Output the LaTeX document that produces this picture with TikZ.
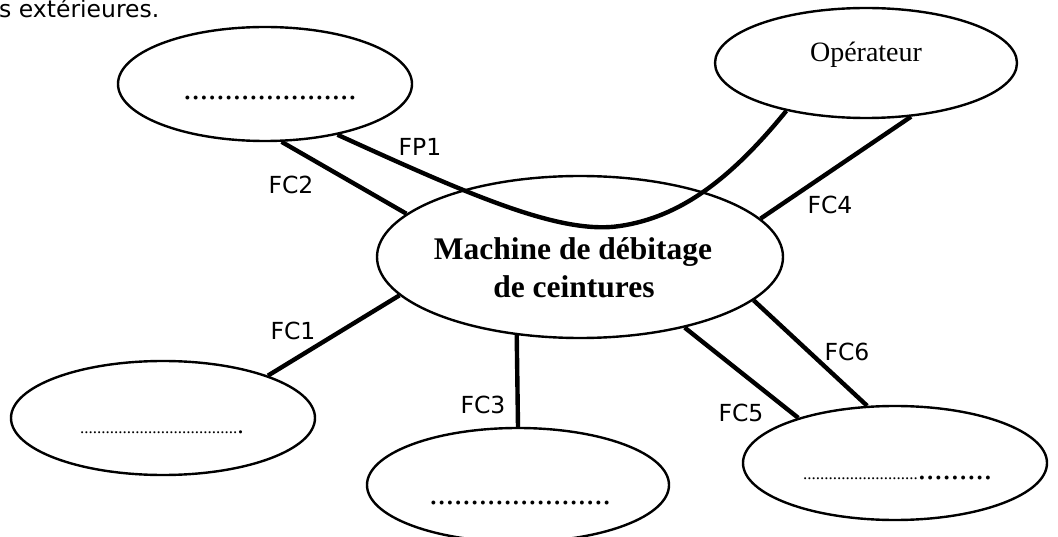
\documentclass[tikz,border=0pt]{standalone}
\usepackage{fontspec}
\setmainfont{Liberation Serif}
\newfontfamily\lblfont{DejaVu Sans}
\usetikzlibrary{shapes.geometric}
\begin{document}
\begin{tikzpicture}[x=1pt,y=-1pt,
  oval/.style={draw, ellipse, line width=2.4pt, inner sep=0pt},
  link/.style={line width=4.4pt},
  lbl/.style={font=\lblfont\fontsize{23.5}{28}\selectfont, inner sep=0pt},
  dots/.style={inner sep=0pt, font=\fontsize{33}{36}\selectfont},
]
\useasboundingbox (0,0) rectangle (1058,537);
% heading fragment
\node[lbl, anchor=base west] (head) at (-1,18) {s extérieures.};
% ellipses
\node[oval, minimum width=294pt, minimum height=114pt] (E1) at (265,84) {};
\node[oval, minimum width=304pt, minimum height=114pt] (E2) at (163,418) {};
\node[oval, minimum width=302pt, minimum height=114pt] (E3) at (518,485) {};
\node[oval, minimum width=304pt, minimum height=114pt] (E4) at (895,463) {};
\node[oval, minimum width=302pt, minimum height=110pt] (E5) at (866,63) {};
\node[oval, minimum width=406pt, minimum height=162pt] (M) at (580,257) {};
% texts in ellipses
\node[inner sep=0pt, anchor=base, font=\fontsize{31.5}{38}\selectfont\bfseries] (mt1) at (573,260) {Machine de débitage};
\node[inner sep=0pt, anchor=base, font=\fontsize{31.5}{38}\selectfont\bfseries] (mt2) at (574,298) {de ceintures};
\node[inner sep=0pt, anchor=base, font=\fontsize{28}{32}\selectfont] (op) at (866,62) {Opérateur};
\node[dots, anchor=base] (d1) at (270,100) {.....................};
\node[dots, anchor=base] (d3) at (520,504) {......................};
\node[inner sep=0pt, anchor=base west] (d2) at (80,433) {\fontsize{17}{18}\selectfont .....................................\fontsize{26}{28}\selectfont .};
\node[inner sep=0pt, anchor=base west] (d4) at (803,479) {\fontsize{17}{18}\selectfont ...........................\fontsize{33}{36}\selectfont .........};
% connectors
\draw[link] (M.192.4) -- (E2.22.3);
\draw[link] (E1.286.3) -- (M.166.8);
\draw[link] (M.231.2) -- (E3.90);
\draw[link] (E5.310.4) -- (M.12);
\draw[link] (M.326.1) -- (E4.155.7);
\draw[link] (M.346.4) -- (E4.116.6);
\coordinate (fpmid) at (620,226);
\draw[link] (E1.325.8) .. controls (470,195) and (560,235) .. (fpmid) .. controls (680,217) and (730,180) .. (E5.211.06);
% labels
\node[lbl] (lFP1) at (420,147) {FP1};
\node[lbl] (lFC2) at (291,185) {FC2};
\node[lbl] (lFC4) at (830,205) {FC4};
\node[lbl] (lFC1) at (293,331) {FC1};
\node[lbl] (lFC3) at (483,405) {FC3};
\node[lbl] (lFC6) at (847,352) {FC6};
\node[lbl] (lFC5) at (741,413) {FC5};
\end{tikzpicture}
\end{document}
